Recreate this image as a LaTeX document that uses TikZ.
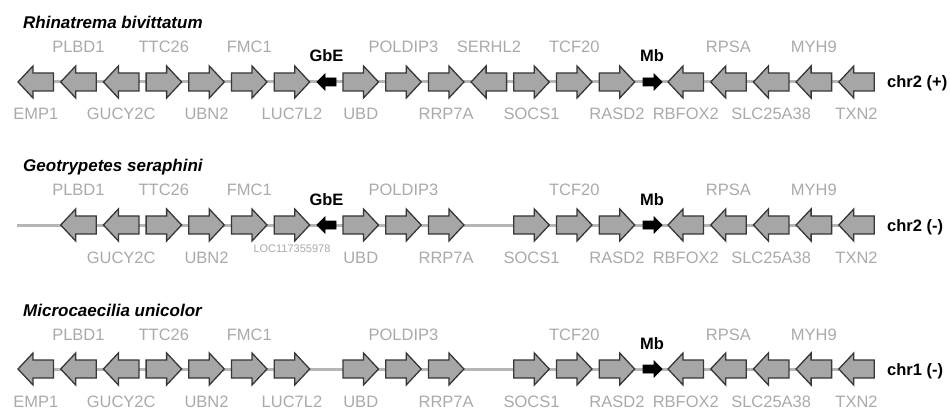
\documentclass[tikz,border=0pt]{standalone}
\usepackage{fontspec}
\setmainfont{Liberation Sans}
\definecolor{genefill}{RGB}{166,166,166}
\definecolor{geneedge}{RGB}{55,55,55}
\definecolor{lblgray}{RGB}{170,170,170}
\definecolor{chromline}{RGB}{182,182,182}
\tikzset{
  genebox/.style={fill=genefill, draw=geneedge, line width=1.3, line join=miter},
  hitbox/.style={fill=black, draw=black, line width=0.8, line join=miter},
  backbone/.style={draw=chromline, line width=3},
  lab/.style={text=lblgray, font=\fontsize{16.5}{18}\selectfont, inner sep=0, anchor=base},
  tinylab/.style={text=lblgray, font=\fontsize{11}{12}\selectfont, inner sep=0, anchor=base},
  hitlab/.style={text=black, font=\fontsize{16.5}{18}\selectfont\bfseries, inner sep=0, anchor=base},
  species/.style={font=\fontsize{17}{20}\selectfont\bfseries\itshape, inner sep=0, anchor=base west},
  chrlab/.style={font=\fontsize{16.5}{18}\selectfont\bfseries, inner sep=0, anchor=base west},
  % gene arrows, placed by their left end on the chromosome line
  gene r/.pic={\draw[genebox] (0,-9) -- (20.5,-9) -- (20.5,-16) -- (35.5,0) -- (20.5,16) -- (20.5,9) -- (0,9) -- cycle;},
  gene l/.pic={\draw[genebox] (0,0) -- (15,-16) -- (15,-9) -- (35.5,-9) -- (35.5,9) -- (15,9) -- (15,16) -- cycle;},
  small r/.pic={\draw[hitbox] (0,-4) -- (11,-4) -- (11,-8) -- (19,0) -- (11,8) -- (11,4) -- (0,4) -- cycle;},
  small l/.pic={\draw[hitbox] (0,0) -- (8,-8) -- (8,-4) -- (19,-4) -- (19,4) -- (8,4) -- (8,8) -- cycle;},
}
\begin{document}
\begin{tikzpicture}[x=1pt,y=-1pt]
\useasboundingbox (0,0) rectangle (950,414);

% ---------- Rhinatrema bivittatum ----------
\node[species] (t1) at (23,29) {Rhinatrema bivittatum};
\coordinate (r1a) at (18,82);
\coordinate (r1b) at (874.3,82);
\draw[backbone] (r1a) -- (r1b);
\foreach \x/\d in {18/l,60.7/l,103.4/l,146.1/r,188.8/r,231.5/r,274.2/r,343/r,385.7/r,428.4/r,471.1/l,513.8/r,556.5/r,599.2/r,668/l,710.7/l,753.4/l,796.1/l,838.8/l}
  \pic at (\x,82) {gene \d};
\pic at (317,82) {small l};
\pic at (643,82) {small r};
\foreach \x/\t in {78.45/PLBD1,163.85/TTC26,249.25/FMC1,403.45/POLDIP3,488.85/SERHL2,574.25/TCF20,728.45/RPSA,813.85/MYH9}
  \node[lab] (r1u-\t) at (\x,53) {\t};
\foreach \x/\t in {35.75/EMP1,121.15/GUCY2C,206.55/UBN2,291.95/LUC7L2,360.75/UBD,446.15/RRP7A,531.55/SOCS1,616.95/RASD2,685.75/RBFOX2,771.15/SLC25A38,856.55/TXN2}
  \node[lab] (r1d-\t) at (\x,120) {\t};
\node[hitlab] (r1-gbe) at (326.5,62) {GbE};
\node[hitlab] (r1-mb) at (652,62) {Mb};
\node[chrlab] (c1) at (887,88) {chr2 (+)};

% ---------- Geotrypetes seraphini ----------
\node[species] (t2) at (23,172) {Geotrypetes seraphini};
\coordinate (r2a) at (17,225);
\coordinate (r2b) at (874.3,225);
\draw[backbone] (r2a) -- (r2b);
\foreach \x/\d in {60.7/l,103.4/l,146.1/r,188.8/r,231.5/r,274.2/r,343/r,385.7/r,428.4/r,513.8/r,556.5/r,599.2/r,668/l,710.7/l,753.4/l,796.1/l,838.8/l}
  \pic at (\x,225) {gene \d};
\pic at (317,225) {small l};
\pic at (643,225) {small r};
\foreach \x/\t in {78.45/PLBD1,163.85/TTC26,249.25/FMC1,403.45/POLDIP3,574.25/TCF20,728.45/RPSA,813.85/MYH9}
  \node[lab] (r2u-\t) at (\x,196) {\t};
\foreach \x/\t in {121.15/GUCY2C,206.55/UBN2,360.75/UBD,446.15/RRP7A,531.55/SOCS1,616.95/RASD2,685.75/RBFOX2,771.15/SLC25A38,856.55/TXN2}
  \node[lab] (r2d-\t) at (\x,263) {\t};
\node[tinylab] (r2d-loc) at (292,252.5) {LOC117355978};
\node[hitlab] (r2-gbe) at (326.5,205) {GbE};
\node[hitlab] (r2-mb) at (652,205) {Mb};
\node[chrlab] (c2) at (887,231) {chr2 (-)};

% ---------- Microcaecilia unicolor ----------
\node[species] (t3) at (23,316) {Microcaecilia unicolor};
\coordinate (r3a) at (18,369);
\coordinate (r3b) at (874.3,369);
\draw[backbone] (r3a) -- (r3b);
\foreach \x/\d in {18/l,60.7/l,103.4/l,146.1/r,188.8/r,231.5/r,274.2/r,343/r,385.7/r,428.4/r,513.8/r,556.5/r,599.2/r,668/l,710.7/l,753.4/l,796.1/l,838.8/l}
  \pic at (\x,369) {gene \d};
\pic at (643,369) {small r};
\foreach \x/\t in {78.45/PLBD1,163.85/TTC26,249.25/FMC1,403.45/POLDIP3,574.25/TCF20,728.45/RPSA,813.85/MYH9}
  \node[lab] (r3u-\t) at (\x,340) {\t};
\foreach \x/\t in {35.75/EMP1,121.15/GUCY2C,206.55/UBN2,291.95/LUC7L2,360.75/UBD,446.15/RRP7A,531.55/SOCS1,616.95/RASD2,685.75/RBFOX2,771.15/SLC25A38,856.55/TXN2}
  \node[lab] (r3d-\t) at (\x,407) {\t};
\node[hitlab] (r3-mb) at (652,349) {Mb};
\node[chrlab] (c3) at (887,375) {chr1 (-)};
\end{tikzpicture}
\end{document}
